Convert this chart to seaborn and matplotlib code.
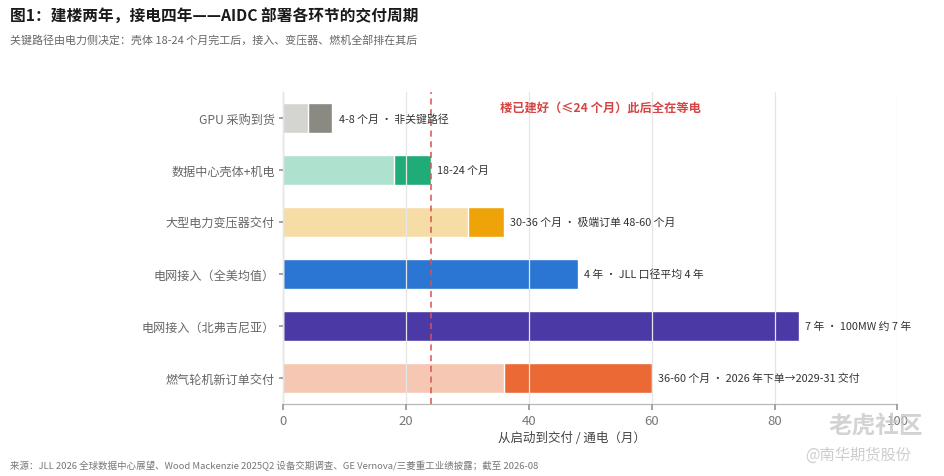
import numpy as np
import pandas as pd
import matplotlib
matplotlib.use("Agg")
import matplotlib.pyplot as plt
import seaborn as sns

# ---- data ----
categories = ["GPU 采购到货", "数据中心壳体+机电", "大型电力变压器交付",
              "电网接入（全美均值）", "电网接入（北弗吉尼亚）", "燃气轮机新订单交付"]
low_months = [4, 18, 30, 0, 0, 36]
high_months = [8, 24, 36, 48, 84, 60]
light_colors = ["#d4d4d1", "#aee2cf", "#f6dda6", "#2a76d2", "#4b39a6", "#f6c8b4"]
dark_colors = ["#8a8a83", "#1fac78", "#eea308", "#2a76d2", "#4b39a6", "#ea6935"]
bar_labels = ["4-8 个月 · 非关键路径", "18-24 个月", "30-36 个月 · 极端订单 48-60 个月",
              "4 年 · JLL 口径平均 4 年", "7 年 · 100MW 约 7 年",
              "36-60 个月 · 2026 年下单→2029-31 交付"]
shell_done = 24
x_ticks = [0, 20, 40, 60, 80, 100]

title = "图1：建楼两年，接电四年——AIDC 部署各环节的交付周期"
subtitle = "关键路径由电力侧决定：壳体 18-24 个月完工后，接入、变压器、燃机全部排在其后"
source = "来源：JLL 2026 全球数据中心展望、Wood Mackenzie 2025Q2 设备交期调查、GE Vernova/三菱重工业绩披露；截至 2026-08"
annot = "楼已建好（≤24 个月）此后全在等电"

df = pd.DataFrame({"cat": categories, "low": low_months, "high": high_months})

sns.set_theme(style="white")
plt.rcParams["font.family"] = ["Noto Sans CJK SC", "DejaVu Sans"]

fig = plt.figure(figsize=(9.45, 4.77), dpi=100)
fig.patch.set_facecolor("white")
ax = fig.add_axes([283.3 / 945, 1 - 405 / 477, (897.3 - 283.3) / 945, (405 - 93) / 477])

# full bar (dark), then light lower segment over it
sns.barplot(data=df, x="high", y="cat", hue="cat", palette=dark_colors, orient="h",
            width=0.56, legend=False, ax=ax, saturation=1)
sns.barplot(data=df, x="low", y="cat", hue="cat", palette=light_colors, orient="h",
            width=0.56, legend=False, ax=ax, saturation=1)

ax.set_xlim(0, 100)
ax.set_ylim(len(categories) - 0.5, -0.5)
ax.set_xticks(x_ticks)
ax.set_axisbelow(False)
ax.grid(axis="x", color="#e6e6e6", linewidth=0.9, zorder=3)
ax.grid(axis="y", visible=False)

for s in ["top", "right"]:
    ax.spines[s].set_visible(False)
for s in ["left", "bottom"]:
    ax.spines[s].set_color("#b8b8b8")
    ax.spines[s].set_linewidth(0.9)

ax.tick_params(axis="y", length=3, color="#999999", labelcolor="#666666", labelsize=8.7, pad=3, left=True)
ax.tick_params(axis="x", length=4, color="#999999", labelcolor="#777777", labelsize=9.5, pad=3, bottom=True)
ax.set_ylabel("")
ax.set_xlabel("从启动到交付 / 通电（月）", fontsize=9, color="#444444", labelpad=2)
ax.xaxis.set_label_coords(0.47, -0.085)

ax.axvline(shell_done, color="#d9534f", linestyle=(0, (4, 3)), linewidth=1.1, zorder=5)

for i, (h, lab) in enumerate(zip(high_months, bar_labels)):
    ax.text(h + 1.0, i, lab, va="center", ha="left", fontsize=7.8, color="#333333", zorder=6)

ax.text(51.6, -0.2, annot, ha="center", va="center", fontsize=8.8, color="#d64545",
        fontweight="bold", zorder=6)

fig.text(10 / 945, 1 - 17 / 477, title, fontsize=11.3, fontweight="bold", color="#1a1a1a",
         ha="left", va="center")
fig.text(10 / 945, 1 - 40 / 477, subtitle, fontsize=7.9, color="#666666", ha="left", va="center")
fig.text(10 / 945, 1 - 466 / 477, source, fontsize=6.8, color="#777777", ha="left", va="center")

# watermark
fig.text(876 / 945, 1 - 427 / 477, "老虎社区", fontsize=17, color="#c8c8c8", ha="center",
         va="center", alpha=0.8, fontweight="bold")
fig.text(858 / 945, 1 - 455 / 477, "@南华期货股份", fontsize=11, color="#c8c8c8", ha="center",
         va="center", alpha=0.9)

fig.savefig("out.png", dpi=100, facecolor="white")
